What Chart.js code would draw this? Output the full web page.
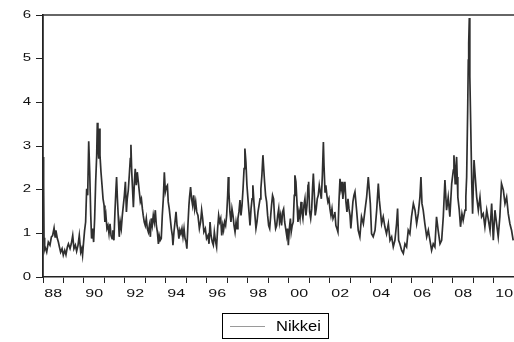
<!DOCTYPE html>
<html>
<head>
<meta charset="utf-8">
<script src="https://cdn.jsdelivr.net/npm/chart.js@4.4.1/dist/chart.umd.min.js"></script>
<style>
html,body{margin:0;padding:0;background:#fff;overflow:hidden;}
#wrap{width:514px;height:342px;position:relative;}
</style>
</head>
<body>
<div id="wrap"><canvas id="c" width="514" height="342"></canvas></div>
<script>
// ---- data (decimal year) ----
const seriesName = 'Nikkei';
const dates = [
1988.01,1988.03,1988.05,1988.08,1988.10,1988.18,1988.26,1988.34,1988.41,1988.47,1988.54,1988.59,1988.63,1988.70,1988.75,1988.80,1988.86,1988.93,1988.99,
1989.06,1989.12,1989.19,1989.24,1989.32,1989.38,1989.45,1989.51,1989.58,1989.64,1989.71,1989.77,1989.84,1989.89,1989.93,1989.98,
1990.03,1990.08,1990.13,1990.18,1990.23,1990.28,1990.33,1990.37,1990.42,1990.47,1990.52,1990.57,1990.62,1990.65,1990.68,1990.72,1990.75,1990.78,1990.83,1990.88,1990.93,1990.98,
1991.02,1991.07,1991.12,1991.17,1991.22,1991.27,1991.32,1991.37,1991.41,1991.46,1991.51,1991.56,1991.59,1991.63,1991.67,1991.72,1991.77,1991.82,1991.87,1991.92,1991.97,
1992.02,1992.07,1992.11,1992.16,1992.21,1992.26,1992.29,1992.33,1992.36,1992.41,1992.46,1992.50,1992.55,1992.60,1992.65,1992.70,1992.75,1992.80,1992.85,1992.89,1992.94,1992.99,
1993.04,1993.09,1993.14,1993.19,1993.24,1993.28,1993.33,1993.38,1993.43,1993.48,1993.53,1993.58,1993.63,1993.67,1993.72,1993.77,1993.82,1993.87,1993.92,1993.97,
1994.02,1994.07,1994.11,1994.16,1994.21,1994.26,1994.31,1994.34,1994.39,1994.44,1994.49,1994.54,1994.59,1994.63,1994.68,1994.73,1994.78,1994.83,1994.88,1994.93,1994.98,
1995.02,1995.07,1995.12,1995.15,1995.20,1995.25,1995.30,1995.35,1995.40,1995.45,1995.50,1995.56,1995.63,1995.69,1995.74,1995.79,1995.85,1995.92,1995.98,
1996.05,1996.10,1996.15,1996.20,1996.26,1996.31,1996.36,1996.41,1996.47,1996.52,1996.57,1996.62,1996.67,1996.72,1996.77,1996.81,1996.86,1996.91,1996.96,
1997.01,1997.04,1997.07,1997.12,1997.17,1997.22,1997.27,1997.32,1997.37,1997.42,1997.47,1997.51,1997.56,1997.61,1997.66,1997.71,1997.76,1997.81,1997.85,1997.90,1997.95,
1998.00,1998.05,1998.10,1998.15,1998.20,1998.24,1998.29,1998.34,1998.39,1998.44,1998.49,1998.54,1998.59,1998.63,1998.68,1998.73,1998.76,1998.81,1998.86,1998.91,1998.96,
1999.01,1999.06,1999.11,1999.15,1999.20,1999.25,1999.30,1999.35,1999.40,1999.45,1999.50,1999.54,1999.59,1999.64,1999.69,1999.74,1999.79,1999.84,1999.89,1999.93,1999.97,
2000.02,2000.07,2000.11,2000.16,2000.21,2000.26,2000.29,2000.34,2000.39,2000.44,2000.49,2000.54,2000.59,2000.63,2000.68,2000.73,2000.78,2000.83,2000.88,2000.93,2000.96,
2001.01,2001.06,2001.11,2001.15,2001.19,2001.24,2001.28,2001.33,2001.38,2001.43,2001.48,2001.53,2001.58,2001.63,2001.68,2001.71,2001.76,2001.80,2001.85,2001.90,2001.95,
2002.00,2002.05,2002.10,2002.15,2002.20,2002.24,2002.29,2002.34,2002.39,2002.44,2002.49,2002.54,2002.59,2002.63,2002.68,2002.73,2002.78,2002.83,2002.88,2002.93,2002.98,
2003.02,2003.07,2003.12,2003.17,2003.22,2003.30,2003.38,2003.46,2003.54,2003.63,2003.71,2003.79,2003.87,2003.92,2003.97,
2004.03,2004.11,2004.20,2004.28,2004.36,2004.41,2004.46,2004.52,2004.60,2004.68,2004.76,2004.85,2004.93,
2005.01,2005.09,2005.17,2005.25,2005.30,2005.35,2005.41,2005.50,2005.58,2005.66,2005.74,2005.82,2005.90,2005.98,
2006.07,2006.15,2006.23,2006.31,2006.39,2006.44,2006.49,2006.55,2006.63,2006.72,2006.80,2006.88,2006.96,
2007.04,2007.12,2007.20,2007.28,2007.37,2007.45,2007.53,2007.61,2007.69,2007.77,2007.85,2007.94,
2008.02,2008.05,2008.08,2008.11,2008.15,2008.18,2008.21,2008.24,2008.31,2008.37,2008.44,2008.50,2008.59,2008.63,2008.67,2008.72,2008.75,2008.77,2008.80,2008.82,2008.83,2008.87,2008.92,2008.96,
2009.03,2009.09,2009.16,2009.24,2009.32,2009.40,2009.48,2009.56,2009.65,2009.73,2009.81,2009.89,2009.97,
2010.05,2010.13,2010.21,2010.29,2010.37,2010.46,2010.54,2010.62,2010.70,2010.78,2010.86,2010.94
];
const nikkei = [
2.75,2.10,0.90,0.65,0.69,0.57,0.80,0.73,0.92,0.95,1.12,0.92,1.07,0.88,0.80,0.69,0.57,0.65,0.50,
0.61,0.51,0.69,0.76,0.65,0.76,0.95,0.65,0.73,0.59,0.73,0.95,0.57,0.65,0.50,0.80,
1.07,1.26,2.02,1.87,3.11,2.40,1.41,0.88,1.11,0.80,1.34,2.18,2.79,3.53,3.02,2.71,3.40,2.79,2.40,2.10,1.79,1.64,
1.26,1.41,1.11,1.18,0.99,1.22,0.95,0.88,1.07,0.84,1.49,2.02,2.29,1.79,1.41,0.92,1.26,1.11,1.41,1.64,1.87,
2.18,1.49,1.79,1.98,2.33,2.71,3.03,2.40,2.10,1.60,2.18,2.48,2.10,2.40,2.18,1.95,1.72,1.79,1.56,1.41,1.26,1.18,
1.34,1.11,1.03,1.18,0.92,1.34,1.18,1.41,1.26,1.53,1.18,1.03,0.76,0.95,0.84,0.88,1.41,1.79,2.40,1.95,
2.06,2.10,1.72,1.56,1.34,1.11,0.95,0.73,1.03,1.26,1.49,1.18,1.07,0.88,1.07,0.99,1.11,0.92,1.11,0.88,0.80,
0.65,1.18,1.64,1.83,2.06,1.79,1.64,1.87,1.56,1.72,1.49,1.41,1.11,1.26,1.53,1.34,1.03,1.11,0.88,
0.95,0.76,1.26,0.95,0.80,0.73,1.03,0.84,0.69,1.11,1.41,1.26,1.34,0.95,1.18,1.07,1.26,1.18,1.41,
1.87,2.29,1.95,1.49,1.26,1.56,1.41,1.18,1.03,1.26,1.11,1.34,1.49,1.76,1.41,1.64,2.02,2.48,2.94,2.63,2.10,
1.79,1.49,1.18,1.56,1.79,2.10,1.72,1.41,1.11,1.26,1.49,1.64,1.79,2.02,2.33,2.79,2.56,2.18,1.87,1.72,1.41,
1.18,1.11,1.41,1.64,1.87,1.79,1.34,1.11,1.18,1.41,1.56,1.26,1.41,1.18,1.49,1.56,1.26,1.11,0.95,1.11,0.73,
1.11,1.34,1.03,1.18,1.26,1.87,2.33,2.18,1.72,1.26,1.49,1.34,1.72,1.49,1.34,1.64,1.79,1.41,1.64,2.10,2.18,
1.49,1.34,1.56,2.02,2.37,1.87,1.41,1.56,1.79,1.87,2.10,1.95,1.79,2.33,3.09,2.56,1.95,2.10,1.87,1.72,1.79,
1.56,1.41,1.56,1.34,1.41,1.49,1.18,1.11,1.03,1.72,2.25,2.02,2.18,1.79,2.02,2.18,1.72,1.49,1.79,1.56,1.41,
1.11,1.41,1.72,1.87,1.95,1.53,1.07,0.92,1.38,1.22,1.53,1.83,2.29,1.99,1.68,
0.99,0.92,1.07,1.53,2.14,1.76,1.53,1.22,1.38,1.15,0.99,1.22,0.84,
0.92,0.69,0.84,1.22,1.57,0.84,0.76,0.61,0.54,0.76,0.69,1.07,0.99,1.38,
1.68,1.53,1.22,1.45,1.83,2.29,1.68,1.53,1.22,0.92,1.07,0.84,0.61,
0.76,0.69,1.38,1.07,0.76,0.84,1.38,2.22,1.53,1.83,1.38,2.14,
2.45,2.79,2.45,2.14,2.52,2.75,2.29,1.83,1.53,1.15,1.45,1.30,1.53,1.83,2.29,3.82,4.97,5.35,5.93,5.20,4.59,3.44,2.14,1.45,
2.68,2.29,1.83,1.53,1.83,1.38,1.45,1.15,1.53,1.30,1.07,1.68,0.84,
1.53,1.22,0.92,1.38,2.14,1.99,1.68,1.83,1.45,1.22,1.07,0.84
];
const yTickValues = [0,1,2,3,4,5,6];
const yearTicks = [1988,1989,1990,1991,1992,1993,1994,1995,1996,1997,1998,1999,2000,2001,2002,2003,2004,2005,2006,2007,2008,2009,2010];
const yearLabels = ['88','90','92','94','96','98','00','02','04','06','08','10'];
const labelYears = [1988,1990,1992,1994,1996,1998,2000,2002,2004,2006,2008,2010];

const points = dates.map((d,i)=>({x:d,y:nikkei[i]}));

const FONT = '"Liberation Sans", Arial, sans-serif';

const framePlugin = {
  id:'frame',
  afterDraw(chart){
    const ctx = chart.ctx, a = chart.chartArea;
    const xs = chart.scales.x, ys = chart.scales.y;
    ctx.save();
    // top frame line
    ctx.strokeStyle = '#333';
    ctx.lineWidth = 1.5;
    ctx.beginPath();
    ctx.moveTo(a.left, a.top);
    ctx.lineTo(a.right, a.top);
    ctx.stroke();
    // y tick labels (stretched like the original)
    ctx.fillStyle = '#111';
    ctx.font = '10px ' + FONT;
    ctx.textBaseline = 'middle';
    ctx.textAlign = 'right';
    yTickValues.forEach(v=>{
      const py = ys.getPixelForValue(v);
      ctx.save();
      ctx.translate(31, py);
      ctx.scale(1.5,1);
      ctx.fillText(String(v), 0, 0);
      ctx.restore();
    });
    // x labels centered within each labelled year
    ctx.textAlign = 'center';
    labelYears.forEach((yr,i)=>{
      const px = xs.getPixelForValue(yr + 0.5);
      ctx.save();
      ctx.translate(px, 294);
      ctx.scale(1.6,1);
      ctx.fillText(yearLabels[i], 0, 0);
      ctx.restore();
    });
    // legend box
    ctx.strokeStyle = '#000';
    ctx.lineWidth = 1;
    ctx.strokeRect(222.5, 313.5, 106, 25);
    ctx.strokeStyle = '#9a9a9a';
    ctx.beginPath();
    ctx.moveTo(230, 326.5);
    ctx.lineTo(265, 326.5);
    ctx.stroke();
    ctx.fillStyle = '#000';
    ctx.font = '14px ' + FONT;
    ctx.textAlign = 'left';
    ctx.save();
    ctx.translate(276, 327);
    ctx.scale(1.18,1);
    ctx.fillText(seriesName, 0, 0);
    ctx.restore();
    ctx.restore();
  }
};

new Chart(document.getElementById('c'), {
  type:'line',
  data:{datasets:[{
    label: seriesName,
    data: points,
    borderColor:'#2f2f2f',
    borderWidth:1.7,
    pointRadius:0,
    tension:0,
    fill:false
  }]},
  options:{
    responsive:false,
    animation:false,
    parsing:false,
    layout:{padding:{top:15,right:0,left:0,bottom:0}},
    plugins:{legend:{display:false},tooltip:{enabled:false}},
    scales:{
      x:{
        type:'linear',
        min:1988, max:2010.98,
        afterBuildTicks(axis){ axis.ticks = yearTicks.map(v=>({value:v})); },
        afterFit(axis){ axis.height = 65; },
        ticks:{display:false},
        grid:{display:true, drawOnChartArea:false, drawTicks:true, tickLength:6, color:'#222', lineWidth:1},
        border:{display:true, color:'#222', width:1.6}
      },
      y:{
        min:0, max:6,
        afterBuildTicks(axis){ axis.ticks = yTickValues.map(v=>({value:v})); },
        afterFit(axis){ axis.width = 43; },
        ticks:{display:false},
        grid:{display:true, drawOnChartArea:false, drawTicks:true, tickLength:7, color:'#222', lineWidth:1},
        border:{display:true, color:'#222', width:1.8}
      }
    }
  },
  plugins:[framePlugin]
});
</script>
</body>
</html>
